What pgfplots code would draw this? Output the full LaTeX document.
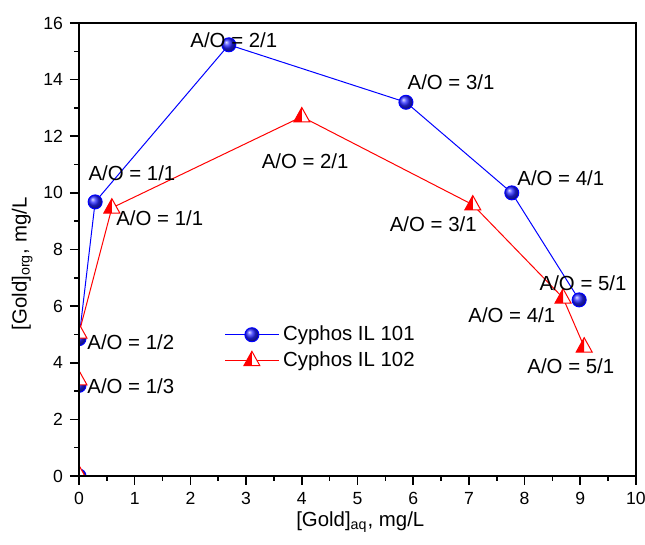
\documentclass[border=0pt]{standalone}
\usepackage{pgfplots}
\pgfplotsset{compat=1.18}
\usepackage{fontspec}
\setmainfont{Liberation Sans}
\pgfdeclareplotmark{halftri}{%
  \pgfpathmoveto{\pgfqpoint{0pt}{1.15\pgfplotmarksize}}%
  \pgfpathlineto{\pgfqpoint{-\pgfplotmarksize}{-0.65\pgfplotmarksize}}%
  \pgfpathlineto{\pgfqpoint{\pgfplotmarksize}{-0.65\pgfplotmarksize}}%
  \pgfpathclose
  \pgfsetfillcolor{white}\pgfusepath{fill}%
  \pgfpathmoveto{\pgfqpoint{0pt}{1.15\pgfplotmarksize}}%
  \pgfpathlineto{\pgfqpoint{-\pgfplotmarksize}{-0.65\pgfplotmarksize}}%
  \pgfpathlineto{\pgfqpoint{0pt}{-0.65\pgfplotmarksize}}%
  \pgfpathclose
  \pgfsetfillcolor{red}\pgfusepath{fill}%
  \pgfpathmoveto{\pgfqpoint{0pt}{1.15\pgfplotmarksize}}%
  \pgfpathlineto{\pgfqpoint{-\pgfplotmarksize}{-0.65\pgfplotmarksize}}%
  \pgfpathlineto{\pgfqpoint{\pgfplotmarksize}{-0.65\pgfplotmarksize}}%
  \pgfpathclose
  \pgfsetstrokecolor{red}\pgfusepath{stroke}%
}
\begin{document}
\begin{tikzpicture}
\useasboundingbox (-39.5pt,-34.5pt) rectangle (283pt,238pt);
\begin{axis}[
  at={(0pt,0pt)}, anchor=south west,
  scale only axis, width=278.5pt, height=226.5pt,
  xmin=0, xmax=10, ymin=0, ymax=16,
  xtick={0,1,...,10}, ytick={0,2,...,16},
  minor x tick num=1, minor y tick num=1,
  tick align=outside, xtick pos=bottom, ytick pos=left,
  major tick length=4.5pt, minor tick length=2.3pt,
  axis line style={line width=1pt},
  every tick/.style={black, line width=0.8pt},
  ticklabel style={font=\fontsize{8.8}{10}\selectfont},
  /pgf/number format/assume math mode=true,
  xlabel={[Gold]\textsubscript{aq}, mg/L},
  ylabel={[Gold]\textsubscript{org}, mg/L},
  label style={font=\fontsize{10.2}{12}\selectfont},
  xlabel style={at={(axis description cs:0.505,-0.1015)}, anchor=center},
  ylabel style={at={(axis description cs:-0.102,0.468)}, anchor=center},
  clip marker paths=true, axis on top,
  legend style={draw=none, fill=none, at={(axis cs:2.5,5.6)}, anchor=north west,
    font=\fontsize{10.2}{12}\selectfont, row sep=0pt},
  legend cell align=left,
  legend image code/.code={\draw[mark repeat=2,mark phase=2] plot coordinates {(0cm,0cm) (0.47cm,0cm) (0.94cm,0cm)};},
]
\addplot[blue, line width=0.5pt, mark=ball, mark size=3.5pt, mark options={ball color=blue!85!white}]
  coordinates {(0,0) (0,3.2) (0,4.85) (0.29,9.68) (2.69,15.23) (5.87,13.2) (7.77,10.0) (8.98,6.22)};
\addlegendentry{Cyphos IL 101}
\addplot[red, line width=0.5pt, mark=halftri, mark size=4pt, mark options={solid}]
  coordinates {(0,0.05) (0,3.4) (0,5.05) (0.59,9.47) (4.0,12.69) (7.07,9.58) (8.69,6.29) (9.07,4.56)};
\addlegendentry{Cyphos IL 102}
\begin{scope}[every node/.style={font=\fontsize{10.2}{12}\selectfont, inner sep=0pt}]
\node at (axis cs:2.78,15.4) {A/O = 2/1};
\node at (axis cs:6.68,13.92) {A/O = 3/1};
\node at (axis cs:8.65,10.53) {A/O = 4/1};
\node at (axis cs:9.05,6.82) {A/O = 5/1};
\node at (axis cs:0.95,10.7) {A/O = 1/1};
\node at (axis cs:1.45,9.12) {A/O = 1/1};
\node at (axis cs:4.06,11.13) {A/O = 2/1};
\node at (axis cs:6.36,8.9) {A/O = 3/1};
\node at (axis cs:7.77,5.69) {A/O = 4/1};
\node at (axis cs:8.83,3.89) {A/O = 5/1};
\node at (axis cs:0.93,4.73) {A/O = 1/2};
\node at (axis cs:0.93,3.18) {A/O = 1/3};
\end{scope}
\end{axis}
\end{tikzpicture}
\end{document}
